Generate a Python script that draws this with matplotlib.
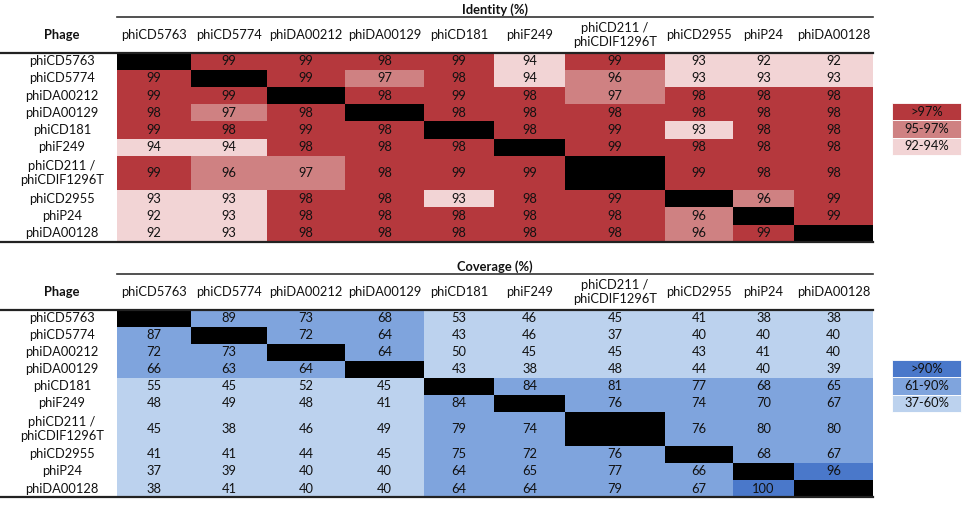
import numpy as np
import matplotlib
matplotlib.use("Agg")
import matplotlib.pyplot as plt
from matplotlib.colors import ListedColormap, BoundaryNorm

plt.rcParams["font.family"] = ["Lato", "DejaVu Sans"]

phages = ["phiCD5763", "phiCD5774", "phiDA00212", "phiDA00129", "phiCD181",
          "phiF249", "phiCD211 /\nphiCDIF1296T", "phiCD2955", "phiP24", "phiDA00128"]

# nan = self comparison (black cell)
identity = np.array([
    [np.nan, 99, 99, 98, 99, 94, 99, 93, 92, 92],
    [99, np.nan, 99, 97, 98, 94, 96, 93, 93, 93],
    [99, 99, np.nan, 98, 99, 98, 97, 98, 98, 98],
    [98, 97, 98, np.nan, 98, 98, 98, 98, 98, 98],
    [99, 98, 99, 98, np.nan, 98, 99, 93, 98, 98],
    [94, 94, 98, 98, 98, np.nan, 99, 98, 98, 98],
    [99, 96, 97, 98, 99, 99, np.nan, 99, 98, 98],
    [93, 93, 98, 98, 93, 98, 99, np.nan, 96, 99],
    [92, 93, 98, 98, 98, 98, 98, 96, np.nan, 99],
    [92, 93, 98, 98, 98, 98, 98, 96, 99, np.nan],
])

coverage = np.array([
    [np.nan, 89, 73, 68, 53, 46, 45, 41, 38, 38],
    [87, np.nan, 72, 64, 43, 46, 37, 40, 40, 40],
    [72, 73, np.nan, 64, 50, 45, 45, 43, 41, 40],
    [66, 63, 64, np.nan, 43, 38, 48, 44, 40, 39],
    [55, 45, 52, 45, np.nan, 84, 81, 77, 68, 65],
    [48, 49, 48, 41, 84, np.nan, 76, 74, 70, 67],
    [45, 38, 46, 49, 79, 74, np.nan, 76, 80, 80],
    [41, 41, 44, 45, 75, 72, 76, np.nan, 68, 67],
    [37, 39, 40, 40, 64, 65, 77, 66, np.nan, 96],
    [38, 41, 40, 40, 64, 64, 79, 67, 100, np.nan],
])

id_bins = [91.5, 94.5, 97.5, 101]
id_labels = ["92-94%", "95-97%", ">97%"]
id_colors = ["#F2D4D5", "#CF8182", "#B5383D"]

cov_bins = [36.5, 60.5, 90.5, 101]
cov_labels = ["37-60%", "61-90%", ">90%"]
cov_colors = ["#BCD2EE", "#7FA4DD", "#4A78CA"]

# layout in pixels
col_edges = np.array([117, 191, 267, 345, 424, 494, 565, 665, 733, 794, 873])
row_units = np.array([1, 1, 1, 1, 1, 1, 2, 1, 1, 1])

fig = plt.figure(figsize=(9.7, 5.05), dpi=100)
ax = fig.add_axes([0, 0, 1, 1])
ax.set_xlim(0, 970)
ax.set_ylim(505, 0)
ax.axis("off")

txt = "#111111"
fs = 9.3


def draw_table(top, unit, title, data, bins, colors, labels, leg_top):
    row_edges = top + 44.5 + np.concatenate([[0], np.cumsum(row_units)]) * unit
    body_top = row_edges[0]
    cmap = ListedColormap(["black"] + colors)
    norm = BoundaryNorm([-0.5, 0.5, 1.5, 2.5, 3.5], cmap.N)
    cat = np.where(np.isnan(data), 0, np.digitize(data, bins))
    ax.pcolormesh(col_edges, row_edges, cat, cmap=cmap, norm=norm)

    xc = (col_edges[:-1] + col_edges[1:]) / 2
    yc = (row_edges[:-1] + row_edges[1:]) / 2
    for i in range(len(phages)):
        ax.text(62, yc[i], phages[i], ha="center", va="center", fontsize=fs,
                color=txt, linespacing=1.25)
        for j in range(len(phages)):
            if not np.isnan(data[i, j]):
                ax.text(xc[j], yc[i], "%d" % data[i, j], ha="center", va="center",
                        fontsize=fs, color=txt)

    # header
    ax.text((col_edges[0] + col_edges[-1]) / 2, top + 2, title, ha="center",
            va="center", fontsize=fs, fontweight="bold", color=txt)
    ax.plot([col_edges[0], col_edges[-1]], [top + 8.5, top + 8.5], color="#333333", lw=1.2)
    hy = (top + 8.5 + body_top) / 2 + 0.5
    ax.text(62, hy, "Phage", ha="center", va="center", fontsize=fs,
            fontweight="bold", color=txt)
    for j in range(len(phages)):
        ax.text(xc[j], hy, phages[j], ha="center", va="center", fontsize=fs,
                color=txt, linespacing=1.25)
    ax.plot([0, col_edges[-1]], [body_top, body_top], color="#222222", lw=1.6)
    ax.plot([0, col_edges[-1]], [row_edges[-1], row_edges[-1]], color="#222222", lw=1.6)

    # legend boxes
    lh = 17.3
    for k in range(3):
        c = colors[2 - k]
        y0 = leg_top + k * lh
        ax.add_patch(plt.Rectangle((892, y0), 69, lh, facecolor=c, edgecolor="white", lw=0.6))
        ax.text(926.5, y0 + lh / 2, labels[2 - k], ha="center", va="center",
                fontsize=fs, color=txt)


draw_table(8, 17.2, "Identity (%)", identity, id_bins, id_colors, id_labels, 103)
draw_table(265, 17.05, "Coverage (%)", coverage, cov_bins, cov_colors, cov_labels, 360)

fig.savefig("out.png", dpi=100)
